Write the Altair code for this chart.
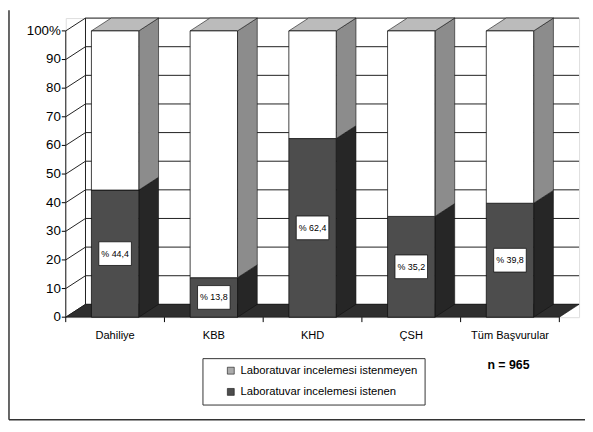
import altair as alt
import pandas as pd

# ---------------- data ----------------
categories = ["Dahiliye", "KBB", "KHD", "ÇSH", "Tüm Başvurular"]
istenen = [44.4, 13.8, 62.4, 35.2, 39.8]          # laboratory requested (%)
istenmeyen = [55.6, 86.2, 37.6, 64.8, 60.2]       # laboratory not requested (%)
series = ["Laboratuvar incelemesi istenmeyen", "Laboratuvar incelemesi istenen"]
y_ticks = [0, 10, 20, 30, 40, 50, 60, 70, 80, 90, 100]
x_bounds = [0, 1, 2, 3, 4, 5]
sample_note = "n = 965"

# ---------------- styling ----------------
FONT = "Liberation Sans, Arial, sans-serif"
PX_X, PX_Y = 100.0, 2.9                 # pixels per data unit
DX, DY, HALF = 20 / PX_X, 13 / PX_Y, 0.24   # 3-D depth (data units) and half bar width
W, H = 520, 303
C_DARK = "#4d4d4d"
C_DARK_SIDE = "#262626"
C_WHITE = "#ffffff"
C_WHITE_SIDE = "#8c8c8c"
C_TOP = "#bbbbbb"
C_FLOOR = "#2e2e2e"
LEG_COLORS = ["#ababab", "#4d4d4d"]

xs = alt.Scale(domain=[0, W / PX_X], nice=False, zero=False)
ys = alt.Scale(domain=[0, H / PX_Y], nice=False, zero=False)
X_AX = alt.Axis(values=x_bounds, labels=False, title=None, grid=False, domain=False,
                tickSize=5, tickColor="black", translate=0)
Y_AX = alt.Axis(values=y_ticks, title=None, grid=False, domain=False, tickSize=4,
                tickColor="black", labelFont=FONT, labelFontSize=13.5, labelColor="black",
                labelPadding=1, translate=0,
                labelExpr="datum.value == 100 ? '100%' : datum.label")


def X(f="x"):
    return alt.X(f"{f}:Q", scale=xs, axis=X_AX, stack=None)


def Y(f="y"):
    return alt.Y(f"{f}:Q", scale=ys, axis=Y_AX, stack=None)


# ---------------- derived tables ----------------
lines = []
for v in y_ticks:
    lines.append(dict(x=DX, x2=5 + DX, y=v + DY, y2=v + DY))   # back-wall gridline
    lines.append(dict(x=0, x2=DX, y=v, y2=v + DY))             # side-wall diagonal
lines.append(dict(x=DX, x2=DX, y=DY, y2=100 + DY))             # back-left edge
lines.append(dict(x=0, x2=0, y=0, y2=100))                     # front y axis line
lines_df = pd.DataFrame(lines)


def polygon(pid, pts, col):
    pts = pts + [pts[0]]
    return [dict(pid=pid, k=k, x=px, y=py, fill=col) for k, (px, py) in enumerate(pts)]


floor_rows = polygon("floor", [(0, 0), (5, 0), (5 + DX, DY), (DX, DY)], C_FLOOR)

poly, front, labels = [], [], []
for i, (cat, a, b) in enumerate(zip(categories, istenen, istenmeyen)):
    xl, xr = i + 0.5 - HALF, i + 0.5 + HALF
    top = a + b
    for seg, (y0, y1, col) in enumerate([(0, a, C_DARK_SIDE), (a, top, C_WHITE_SIDE)]):
        poly += polygon(f"s{i}{seg}",
                        [(xr, y0), (xr + DX, y0 + DY), (xr + DX, y1 + DY), (xr, y1)], col)
    poly += polygon(f"t{i}", [(xl, top), (xr, top), (xr + DX, top + DY), (xl + DX, top + DY)],
                    C_TOP)
    front.append(dict(x=xl, x2=xr, y=0, y2=a, fill=C_DARK))
    front.append(dict(x=xl, x2=xr, y=a, y2=top, fill=C_WHITE))
    labels.append(dict(x=i + 0.5, y=a / 2, t="% " + f"{a:.1f}".replace(".", ","), cat=cat, y0=0))
floor_df = pd.DataFrame(floor_rows)
poly_df = pd.DataFrame(poly)
front_df = pd.DataFrame(front)
labels_df = pd.DataFrame(labels)

# ---------------- layers ----------------
grid = alt.Chart(lines_df).mark_rule(color="#1e1e1e", strokeWidth=1).encode(
    x=X(), x2="x2:Q", y=Y(), y2="y2:Q")

poly_enc = dict(x=X(), y=Y(), detail="pid:N", order="k:Q",
                fill=alt.Fill("fill:N", scale=None))
floor = alt.Chart(floor_df).mark_line(stroke="#111", strokeWidth=0.6).encode(**poly_enc)
faces = alt.Chart(poly_df).mark_line(stroke="#111", strokeWidth=0.6).encode(**poly_enc)

fronts = alt.Chart(front_df).mark_rect(stroke="#111", strokeWidth=0.8).encode(
    x=X(), x2="x2:Q", y=Y(), y2="y2:Q", color=alt.Color("fill:N", scale=None))

box_path = "M-1.375,-1L1.375,-1L1.375,1L-1.375,1Z"
boxes = alt.Chart(labels_df).mark_point(shape=box_path, size=576, filled=True, fill="white",
                                        stroke="#111", strokeWidth=0.8, opacity=1).encode(
    x=X(), y=Y())
vals = alt.Chart(labels_df).mark_text(font=FONT, fontSize=9, color="black").encode(
    x=X(), y=Y(), text="t:N")

cat_text = alt.Chart(labels_df).mark_text(font=FONT, fontSize=11.2, color="black", dy=19,
                                          baseline="middle").encode(
    x=X(), y=Y("y0"), text="cat:N")

legend_layer = alt.Chart(pd.DataFrame({"s": series})).mark_square(size=0).encode(
    x=alt.value(0), y=alt.value(0),
    fill=alt.Fill("s:N", scale=alt.Scale(domain=series, range=LEG_COLORS),
                  legend=alt.Legend(title=None, orient="none", legendX=138.5, legendY=344.5,
                                    strokeColor="#333", fillColor="white", padding=7,
                                    labelFont=FONT, labelFontSize=11.4, labelColor="black",
                                    symbolType="square", symbolSize=49, symbolOpacity=1,
                                    symbolStrokeColor="#333", symbolStrokeWidth=0.6,
                                    symbolOffset=16, labelOffset=4, rowPadding=8.5,
                                    labelLimit=400)))

one = pd.DataFrame({"a": [0]})
note = alt.Chart(one).mark_text(font=FONT, fontSize=12.5, fontWeight="bold",
                                color="black").encode(
    x=alt.value(448.5), y=alt.value(351.5), text=alt.value(sample_note))
frame_l = alt.Chart(one).mark_rule(color="#333", strokeWidth=1.5).encode(
    x=alt.value(-57.5), y=alt.value(-8), y2=alt.value(407))
frame_b = alt.Chart(one).mark_rule(color="#333", strokeWidth=1.5).encode(
    x=alt.value(-57.5), x2=alt.value(527), y=alt.value(407))

chart = alt.layer(
    grid, floor, faces, fronts, boxes, vals, cat_text, legend_layer, note, frame_l, frame_b
).properties(
    width=W, height=H,
    padding={"left": 58.5, "top": 7.5, "right": 6, "bottom": 105.5},
    autosize=alt.AutoSizeParams(type="none"),
).configure_view(stroke=None).configure(background="white")

chart.save("out.html", embed_options={"renderer": "svg", "actions": False})
